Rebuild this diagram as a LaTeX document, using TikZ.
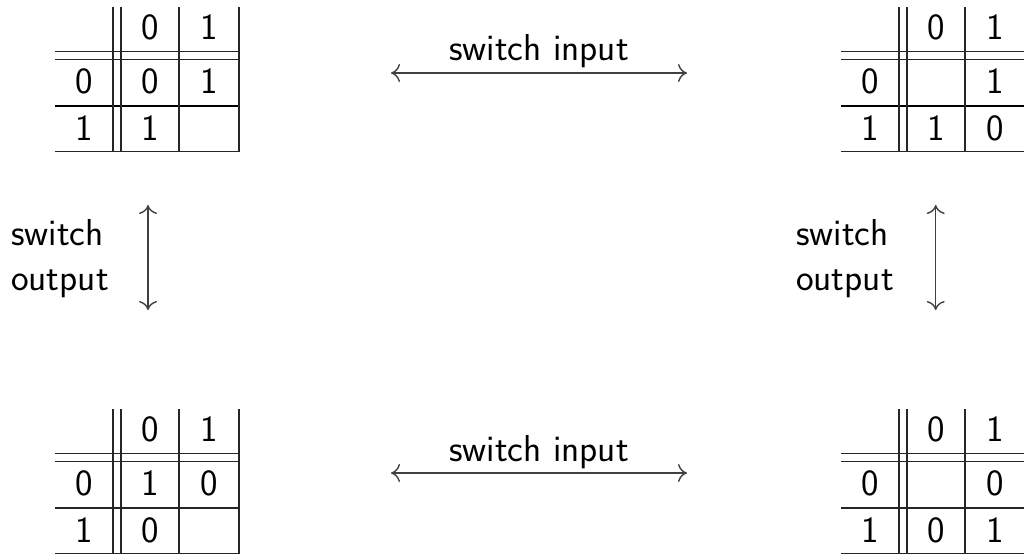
\documentclass[tikz,border=0pt]{standalone}
\usetikzlibrary{arrows.meta}
\newcommand\karnaugh[8]{%
  \begin{scope}[shift={(#2,#3)}]
    \draw[grid] (0,44.7) -- (184,44.7) (0,52.3) -- (184,52.3) (0,144.7) -- (184,144.7);
    \draw[grid,#4] (0,99) -- (184,99);
    \draw[grid] (58,0) -- (58,144.7) (66,0) -- (66,144.7) (124,0) -- (124,144.7) (184,0) -- (184,144.7);
    \node[digit] (#1-c0) at (95,20) {0};
    \node[digit] (#1-c1) at (154,20) {1};
    \node[digit] (#1-r0) at (29,74) {0};
    \node[digit] (#1-r1) at (29,121.5) {1};
    \node[digit] (#1-a) at (95,74) {#5};
    \node[digit] (#1-b) at (154,74) {#6};
    \node[digit] (#1-c) at (95,121.5) {#7};
    \node[digit] (#1-d) at (154,121.5) {#8};
  \end{scope}}
\begin{document}
\begin{tikzpicture}[x=1pt,y=-1pt,
  grid/.style={line width=1.3pt, draw=black!85},
  midthick/.style={line width=2pt, draw=black},
  midthin/.style={},
  digit/.style={font=\fontsize{37}{44}\selectfont\sffamily, inner sep=0pt, anchor=center},
  lbl/.style={font=\fontsize{37.5}{45}\selectfont\sffamily, inner sep=0pt},
  biarrow/.style={line width=1.4pt, draw=black!75,
    {Computer Modern Rightarrow[length=9pt,width=18pt]}-{Computer Modern Rightarrow[length=9pt,width=18pt]}}]
\useasboundingbox (0,0) rectangle (1024,556);

\karnaugh{TL}{55}{7}{midthick}{0}{1}{1}{}
\karnaugh{TR}{841}{7}{midthick}{}{1}{1}{0}
\karnaugh{BL}{55}{409}{midthin}{1}{0}{0}{}
\karnaugh{BR}{841}{409}{midthin}{}{0}{0}{1}

% horizontal arrows
\coordinate (tinL) at (391,73);
\coordinate (tinR) at (687,73);
\draw[biarrow] (tinL) -- (tinR);
\node[lbl, anchor=base] (tinlab) at (539,61) {switch input};

\coordinate (binL) at (391,473);
\coordinate (binR) at (687,473);
\draw[biarrow] (binL) -- (binR);
\node[lbl, anchor=base] (binlab) at (539,461) {switch input};

% vertical arrows
\coordinate (loT) at (148,205);
\coordinate (loB) at (148,310);
\draw[biarrow] (loT) -- (loB);
\node[lbl, anchor=base west, align=left] (lolab) at (11,290) {switch\\output};

\coordinate (roT) at (935.7,205);
\coordinate (roB) at (935.7,310);
\draw[biarrow] (roT) -- (roB);
\node[lbl, anchor=base west, align=left] (rolab) at (796,290) {switch\\output};
\end{tikzpicture}
\end{document}
